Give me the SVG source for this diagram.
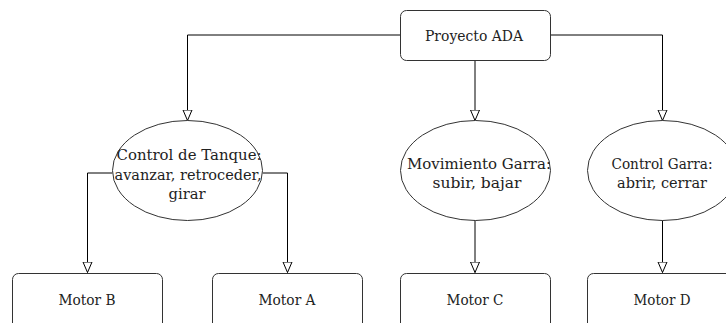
<svg xmlns="http://www.w3.org/2000/svg" width="726" height="323" viewBox="0 0 726 323">
<style>
.n{fill:#fff;stroke:#333;stroke-width:1}
.t{font-family:"DejaVu Serif","Liberation Serif",serif;font-size:14px;fill:#222;text-anchor:middle}
.c{fill:none;stroke:#000;stroke-width:1}
</style>
<defs>
<marker id="a" markerWidth="12" markerHeight="12" refX="11" refY="5" orient="auto" markerUnits="userSpaceOnUse">
<path d="M0.5,0.5 L11,5 L0.5,9.5 Z" fill="#fff" stroke="#000" stroke-width="1"/>
</marker>
</defs>
<rect width="726" height="323" fill="#fff"/>
<g id="connectors">
<path class="c" d="M400,35 H187.5 V120.5" marker-end="url(#a)"/>
<path class="c" d="M475,60 V120.5" marker-end="url(#a)"/>
<path class="c" d="M550,35 H662.5 V120.5" marker-end="url(#a)"/>
<path class="c" d="M112.5,173 H87.5 V272.5" marker-end="url(#a)"/>
<path class="c" d="M262.5,173 H287.5 V272.5" marker-end="url(#a)"/>
<path class="c" d="M475,220 V272.5" marker-end="url(#a)"/>
<path class="c" d="M662.5,220 V272.5" marker-end="url(#a)"/>
</g>
<g id="proyecto">
<rect class="n" x="400.5" y="10.5" width="150" height="50" rx="6"/>
<text class="t" x="474" y="41" textLength="98" lengthAdjust="spacingAndGlyphs">Proyecto ADA</text>
</g>
<g id="tanque">
<ellipse class="n" cx="187.5" cy="170.5" rx="75" ry="50"/>
<text class="t" x="189" y="160" textLength="145" lengthAdjust="spacingAndGlyphs">Control de Tanque:</text>
<text class="t" x="188" y="179.5" textLength="147" lengthAdjust="spacingAndGlyphs">avanzar, retroceder,</text>
<text class="t" x="187" y="199" textLength="37" lengthAdjust="spacingAndGlyphs">girar</text>
</g>
<g id="movimiento">
<ellipse class="n" cx="475.5" cy="170.5" rx="75" ry="50"/>
<text class="t" x="479" y="169" textLength="144" lengthAdjust="spacingAndGlyphs">Movimiento Garra:</text>
<text class="t" x="477" y="188" textLength="89" lengthAdjust="spacingAndGlyphs">subir, bajar</text>
</g>
<g id="garra">
<ellipse class="n" cx="662.5" cy="170.5" rx="75" ry="50"/>
<text class="t" x="662" y="169" textLength="101" lengthAdjust="spacingAndGlyphs">Control Garra:</text>
<text class="t" x="662" y="188" textLength="90" lengthAdjust="spacingAndGlyphs">abrir, cerrar</text>
</g>
<g id="motorB">
<rect class="n" x="12.5" y="273.5" width="150" height="60" rx="6"/>
<text class="t" x="87" y="305" textLength="57" lengthAdjust="spacingAndGlyphs">Motor B</text>
</g>
<g id="motorA">
<rect class="n" x="212.5" y="273.5" width="150" height="60" rx="6"/>
<text class="t" x="287" y="305" textLength="57" lengthAdjust="spacingAndGlyphs">Motor A</text>
</g>
<g id="motorC">
<rect class="n" x="400.5" y="273.5" width="150" height="60" rx="6"/>
<text class="t" x="475" y="305" textLength="57" lengthAdjust="spacingAndGlyphs">Motor C</text>
</g>
<g id="motorD">
<rect class="n" x="587.5" y="273.5" width="150" height="60" rx="6"/>
<text class="t" x="662" y="305" textLength="57" lengthAdjust="spacingAndGlyphs">Motor D</text>
</g>
</svg>
